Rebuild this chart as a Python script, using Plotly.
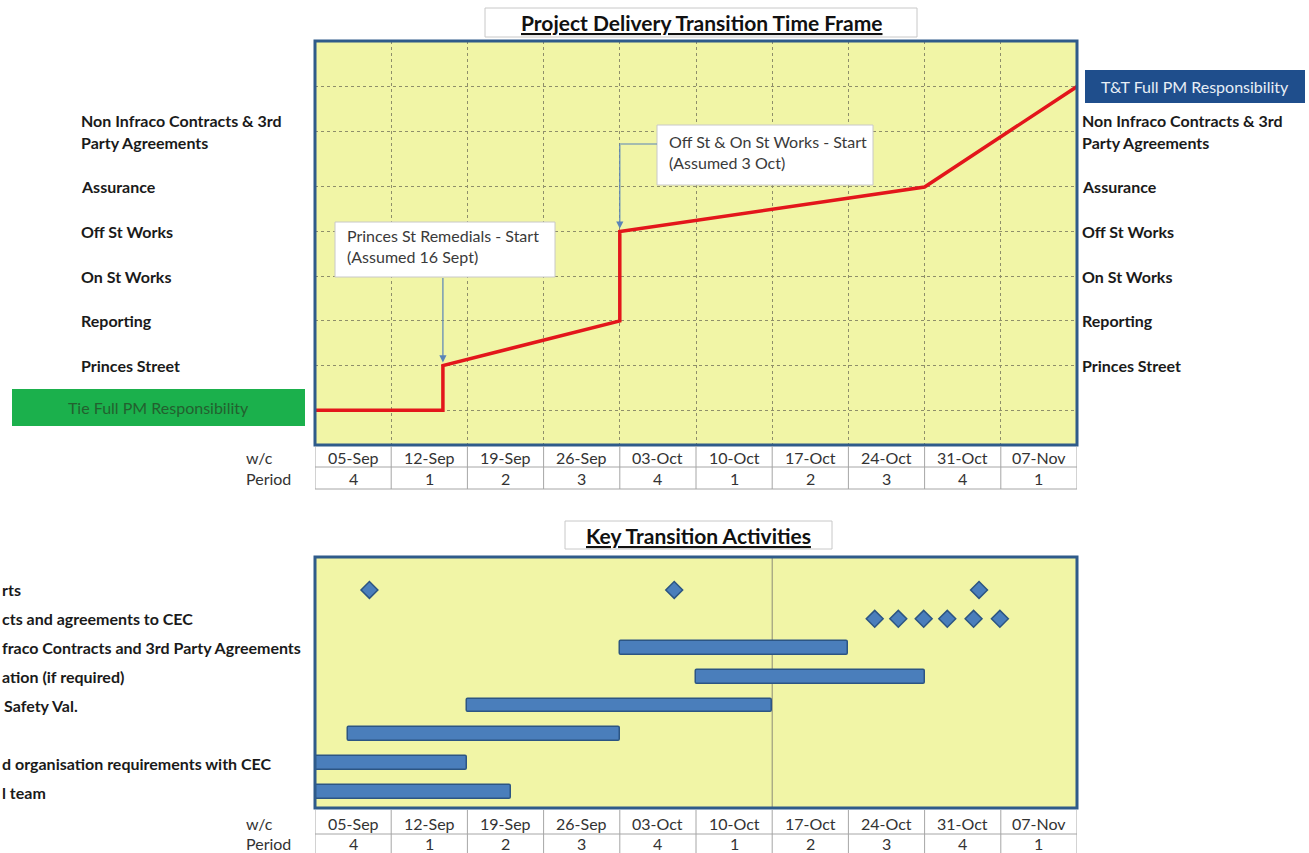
import plotly.graph_objects as go
import pandas as pd

W, H = 1309, 853
FONT = "Lato"

# ---------------- data ----------------
week_labels = ["05-Sep", "12-Sep", "19-Sep", "26-Sep", "03-Oct",
               "10-Oct", "17-Oct", "24-Oct", "31-Oct", "07-Nov"]
period_labels = ["4", "1", "2", "3", "4", "1", "2", "3", "4", "1"]
axis_start = "2011-09-05"
axis_end = "2011-11-14"

# top chart: responsibility levels
level_names = ["Tie Full PM Responsibility", "Princes Street", "Reporting",
               "On St Works", "Off St Works", "Assurance",
               "Non Infraco Contracts & 3rd<br>Party Agreements",
               "T&T Full PM Responsibility"]
level_values = [0, 1, 2, 3, 4, 5, 6.25, 7.25]

transition_dates = ["2011-09-05", "2011-09-16 18:00", "2011-09-16 18:00",
                    "2011-10-03", "2011-10-03", "2011-10-31", "2011-11-14"]
transition_levels = [0, 0, 1, 2, 4, 5, 7.25]

callout_texts = ["Princes St Remedials - Start<br>(Assumed 16 Sept)",
                 "Off St & On St Works - Start<br>(Assumed 3 Oct)"]
callout_dates = ["2011-09-16 18:00", "2011-10-03"]
callout_levels = [1, 4]

# bottom chart: key transition activities (labels cut at the left edge)
activity_labels = ["rts", "cts and agreements to CEC",
                   "fraco Contracts and 3rd Party Agreements",
                   "ation (if required)", "Safety Val.", "",
                   "d organisation requirements with CEC", "l team"]
activity_rows = [0, 1, 2, 3, 4, 5, 6, 7]

bar_rows = [2, 3, 4, 5, 6, 7]
bar_start = ["2011-10-03", "2011-10-10", "2011-09-19", "2011-09-08",
             "2011-09-05", "2011-09-05"]
bar_end = ["2011-10-24", "2011-10-31", "2011-10-17", "2011-10-03",
           "2011-09-19", "2011-09-23"]

milestone_rows = [0, 0, 0, 1, 1, 1, 1, 1, 1]
milestone_dates = ["2011-09-10", "2011-10-08", "2011-11-05",
                   "2011-10-26 10:00", "2011-10-28 14:00", "2011-10-30 22:00",
                   "2011-11-02 02:00", "2011-11-04 12:00", "2011-11-06 22:00"]
status_date = "2011-10-17"

# ---------------- helpers ----------------
def px(x):
    return x / W


def py(y):
    return 1 - y / H


week_starts = pd.to_datetime([lbl + "-2011" for lbl in week_labels], format="%d-%b-%Y")
week_mids = week_starts + pd.Timedelta(days=3.5)
boundaries = list(week_starts) + [pd.Timestamp(axis_end)]

BG = "#F1F5A6"
FRAME = "#2F5B8A"
GRID = "#8E8E6A"
TXT = "#1A1A1A"

fig = go.Figure()

# red transition line
fig.add_trace(go.Scatter(x=transition_dates, y=transition_levels, mode="lines",
                         line=dict(color="#E3161B", width=3.5),
                         xaxis="x", yaxis="y", showlegend=False, hoverinfo="skip"))

# bars
starts = pd.to_datetime(bar_start)
ends = pd.to_datetime(bar_end)
durations = (ends - starts) / pd.Timedelta(milliseconds=1)
fig.add_trace(go.Bar(orientation="h", y=bar_rows, base=bar_start, x=list(durations),
                     width=0.48, xaxis="x2", yaxis="y2",
                     marker=dict(color="#4A7EBB", line=dict(color="#2C5583", width=1.5),
                                 cornerradius=2),
                     showlegend=False, hoverinfo="skip"))

# milestones
fig.add_trace(go.Scatter(x=milestone_dates, y=milestone_rows, mode="markers",
                         marker=dict(symbol="diamond", size=13, color="#4A7EBB",
                                     line=dict(color="#2C5583", width=1.5)),
                         xaxis="x2", yaxis="y2", showlegend=False, hoverinfo="skip"))

shapes = []
annotations = []


def note(**kw):
    kw.setdefault("showarrow", False)
    kw.setdefault("xanchor", "center")
    kw.setdefault("yanchor", "middle")
    annotations.append(kw)


# frames
for xa, ya in (("x", "y"), ("x2", "y2")):
    shapes.append(dict(type="rect", xref=xa + " domain", yref=ya + " domain",
                       x0=0, x1=1, y0=0, y1=1, line=dict(color=FRAME, width=3),
                       layer="above"))

# status line in bottom chart
shapes.append(dict(type="line", xref="x2", yref="y2 domain", x0=status_date, x1=status_date,
                   y0=0, y1=1, line=dict(color="#8C8C78", width=1), layer="below"))

# tables: (top, mid, bottom, w/c text y, period text y)
TABF = dict(family=FONT, size=16, color="#333333")
for top, mid, bot, ty1, ty2 in ((446, 467, 489, 457, 478), (810, 834, 858, 823, 843)):
    for yy in (mid, bot):
        shapes.append(dict(type="line", xref="paper", yref="paper", x0=px(315), x1=px(1077),
                           y0=py(yy), y1=py(yy), line=dict(color="#A6A6A6", width=1)))
    for b in boundaries:
        shapes.append(dict(type="line", xref="x", yref="paper", x0=b, x1=b,
                           y0=py(top), y1=py(bot), line=dict(color="#A6A6A6", width=1)))
    for m, w, p in zip(week_mids, week_labels, period_labels):
        note(x=m, xref="x", y=py(ty1), yref="paper", text=w, font=TABF)
        note(x=m, xref="x", y=py(ty2), yref="paper", text=p, font=TABF)
    note(x=px(244), xref="paper", xanchor="left", y=py(ty1), yref="paper",
         text="w/c", font=TABF)
    note(x=px(244), xref="paper", xanchor="left", y=py(ty2), yref="paper",
         text="Period", font=TABF)

# titles
for text, x0, x1, y0, y1 in (("Project Delivery Transition Time Frame", 485, 917, 8, 37),
                             ("Key Transition Activities", 565, 832, 521, 549)):
    shapes.append(dict(type="rect", xref="paper", yref="paper", x0=px(x0), x1=px(x1),
                       y0=py(y1), y1=py(y0), line=dict(color="#C8C8C8", width=1),
                       fillcolor="white"))
    note(x=px((x0 + x1) / 2), y=py((y0 + y1) / 2), xref="paper", yref="paper",
         text="<b>" + text + "</b>",
         font=dict(family=FONT, size=21, color="#111111", lineposition="under"))

# level labels (left and right)
for name, val in zip(level_names, level_values):
    if val in (level_values[0], level_values[-1]):
        continue
    lines = name.split("<br>")
    n = len(lines)
    for i, line in enumerate(lines):
        shift = (n - 1) * 11 - i * 22
        for xpos in (79, 1080):
            note(x=px(xpos), xref="paper", xanchor="left", y=val, yref="y",
                 yshift=shift, text="<b>" + line + "</b>",
                 font=dict(family=FONT, size=16, color=TXT))

# start / end responsibility boxes
note(x=px(158.5), xref="paper", y=level_values[0], yref="y", yshift=3,
     text=level_names[0], width=293, height=37,
     bgcolor="#1BB04C", borderpad=0, borderwidth=0,
     font=dict(family=FONT, size=16, color="#23602F"))
note(x=px(1195), xref="paper", y=level_values[-1], yref="y",
     text=level_names[-1], width=220, height=33,
     bgcolor="#1F4E8C", borderpad=0, borderwidth=0,
     font=dict(family=FONT, size=16, color="#E8EEF6"))

# call-outs
boxes = [(335, 555, 222, 277), (657, 873, 125, 185)]
for text, (x0, x1, y0, y1) in zip(callout_texts, boxes):
    shapes.append(dict(type="rect", xref="paper", yref="paper", x0=px(x0), x1=px(x1),
                       y0=py(y1), y1=py(y0), line=dict(color="#C8C8C8", width=1),
                       fillcolor="white"))
    note(x=px(x0 + 10), xref="paper", xanchor="left", align="left",
         y=py((y0 + y1) / 2 - 3), yref="paper", text=text,
         font=dict(family=FONT, size=16, color="#3A3A3A"))

ARROW = "#5A84B8"
# arrow 1: straight down from box bottom
annotations.append(dict(x=callout_dates[0], y=callout_levels[0], xref="x", yref="y",
                        ax=0, ay=-(366 - 277), axref="pixel", ayref="pixel", text="",
                        showarrow=True, arrowhead=2, arrowsize=1.2, arrowwidth=1.2,
                        arrowcolor=ARROW, standoff=3))
# arrow 2: elbow from box left
shapes.append(dict(type="line", xref="paper", yref="paper", x0=px(619), x1=px(657),
                   y0=py(144), y1=py(144), line=dict(color=ARROW, width=1.2)))
annotations.append(dict(x=callout_dates[1], y=callout_levels[1], xref="x", yref="y",
                        ax=0, ay=-(232 - 144), axref="pixel", ayref="pixel", text="",
                        showarrow=True, arrowhead=2, arrowsize=1.2, arrowwidth=1.2,
                        arrowcolor=ARROW, standoff=3))

# activity labels (cut off at page edge)
label_x = [0, 0, 0, 0, 2, 0, 0, 0]
for lbl, row, lx in zip(activity_labels, activity_rows, label_x):
    if not lbl:
        continue
    note(x=px(lx), xref="paper", xanchor="left", y=row, yref="y2",
         text="<b>" + lbl + "</b>", font=dict(family=FONT, size=16, color=TXT))

fig.update_layout(
    width=W, height=H, margin=dict(l=0, r=0, t=0, b=0),
    paper_bgcolor="white", plot_bgcolor=BG, showlegend=False,
    xaxis=dict(domain=[px(315), px(1077)], anchor="y", type="date",
               range=[axis_start, axis_end], tick0=axis_start, dtick=7 * 86400000,
               showgrid=True, gridcolor=GRID, griddash="dot", gridwidth=1,
               showticklabels=False, ticks="", zeroline=False, showline=False),
    yaxis=dict(domain=[py(445), py(41)], anchor="x", range=[-0.78, 8.27],
               tickvals=level_values, showgrid=True, gridcolor=GRID, griddash="dot",
               gridwidth=1, showticklabels=False, ticks="", zeroline=False),
    xaxis2=dict(domain=[px(315), px(1077)], anchor="y2", type="date",
                range=[axis_start, axis_end], showgrid=False, showticklabels=False,
                ticks="", zeroline=False),
    yaxis2=dict(domain=[py(808), py(557)], anchor="x2", range=[7.55, -1.14],
                showgrid=False, showticklabels=False, ticks="", zeroline=False),
    shapes=shapes, annotations=annotations, bargap=0,
)

fig.write_html("out.html")
